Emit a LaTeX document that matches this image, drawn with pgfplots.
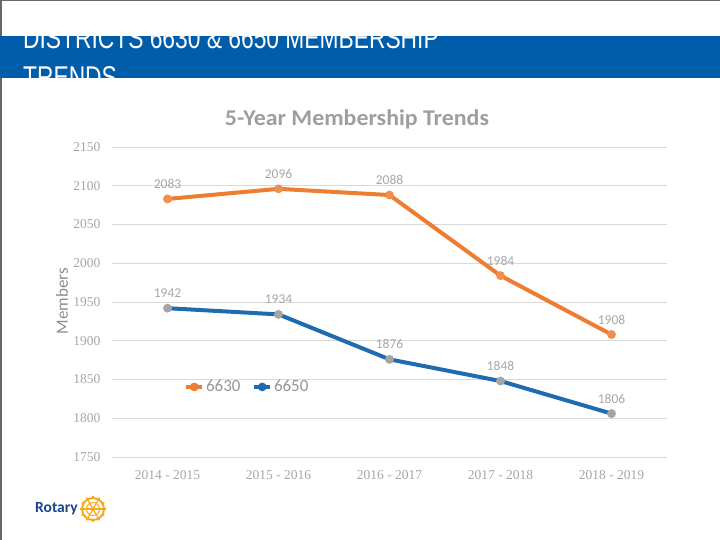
\documentclass[border=0pt]{standalone}
\usepackage{pgfplots}
\pgfplotsset{compat=1.18}
\usepackage{fontspec}
\setmainfont{Carlito}
\newfontfamily\serifticks{Liberation Serif}
\newfontfamily\headfont{Liberation Sans}
\definecolor{org}{HTML}{ED7D31}
\definecolor{blu}{HTML}{1F6BB0}
\definecolor{mgray}{HTML}{A5A5A5}
\definecolor{txtgray}{HTML}{A6A6A6}
\definecolor{band}{HTML}{005DAA}
\definecolor{gold}{HTML}{F7A81B}
\definecolor{rblue}{HTML}{17458F}
\begin{document}
\begin{tikzpicture}[x=1bp,y=1bp]
\path[use as bounding box] (0,0) rectangle (720,540);
% frame lines
\draw[gray!80!black, line width=1.5bp] (0.75,0) -- (0.75,539.25) -- (720,539.25);
% header band
\fill[band] (0,462) rectangle (720,504);
\begin{scope}
\clip (0,462) rectangle (720,504);
\node[anchor=base west, inner sep=0, text=white, xscale=0.76, font=\headfont\fontsize{30bp}{36bp}\selectfont] at (23,491) {DISTRICTS 6630 \& 6650 MEMBERSHIP};
\node[anchor=base west, inner sep=0, text=white, xscale=0.76, font=\headfont\fontsize{30bp}{36bp}\selectfont] at (23,452.5) {TRENDS};
\end{scope}
% chart title
\node[text=txtgray!95!black, xscale=1.06, font=\bfseries\fontsize{22.5bp}{26bp}\selectfont] at (357,421) {5-Year Membership Trends};
% y label
\node[rotate=90, text=txtgray!85!black, font=\fontsize{17bp}{19bp}\selectfont] at (62,239) {Members};
\begin{axis}[
  at={(112bp,83bp)}, anchor=south west,
  scale only axis, width=555bp, height=310bp,
  xmin=-0.5, xmax=4.5, ymin=1750, ymax=2150,
  ytick={1750,1800,...,2150},
  xtick={0,1,2,3,4},
  xticklabels={2014 - 2015,2015 - 2016,2016 - 2017,2017 - 2018,2018 - 2019},
  axis line style={draw=none},
  tick style={draw=none},
  ymajorgrids, major grid style={draw=black!15, line width=0.8bp},
  ticklabel style={text=txtgray, font=\serifticks\fontsize{13.5bp}{15bp}\selectfont},
  yticklabel style={xshift=-8bp},
  xticklabel style={yshift=-10bp},
  /pgf/number format/assume math mode=true,
  yticklabel={\pgfmathprintnumber[fixed,1000 sep={}]{\tick}},
  nodes near coords,
  every node near coord/.append style={anchor=center, yshift=15bp, text=txtgray, font=\fontsize{13.5bp}{15bp}\selectfont, /pgf/number format/.cd, fixed, 1000 sep={}},
  legend style={at={(0.125,0.226)}, anchor=west, draw=none, fill=none, legend columns=2, font=\fontsize{17bp}{20bp}\selectfont, text=txtgray!90!black, /tikz/every even column/.append style={column sep=10bp}},
  legend image code/.code={\draw[#1, line width=3.5bp] (0bp,0bp) -- (16bp,0bp); \fill[#1] (8bp,0bp) circle (2.2bp);},
  clip=false,
]
\addplot[org, line width=4bp, mark=*, mark size=2.3bp, mark options={fill=org!85!white, draw=org!85!white}] coordinates {(0,2083) (1,2096) (2,2088) (3,1984) (4,1908)};
\addlegendentry{6630}
\addplot[blu, line width=4bp, mark=*, mark size=2.3bp, mark options={fill=mgray, draw=mgray}] coordinates {(0,1942) (1,1934) (2,1876) (3,1848) (4,1806)};
\addlegendentry{6650}
\end{axis}
% Rotary logo
\node[anchor=west, text=rblue, font=\bfseries\fontsize{15.5bp}{18bp}\selectfont, inner sep=0] at (35,31) {Rotary};
\begin{scope}[shift={(93,31)}]
\draw[gold, line width=2bp] (0,0) circle (11);
\draw[gold, line width=1bp] (0,0) circle (6.5);
\fill[gold] (0,0) circle (2.2);
\foreach \a in {0,30,...,330} {\draw[gold, line width=1.3bp] (\a:11) -- (\a:13.2);}
\foreach \a in {0,60,...,300} {\draw[gold, line width=1.2bp] (\a:2) -- (\a:10);}
\end{scope}
\end{tikzpicture}
\end{document}
